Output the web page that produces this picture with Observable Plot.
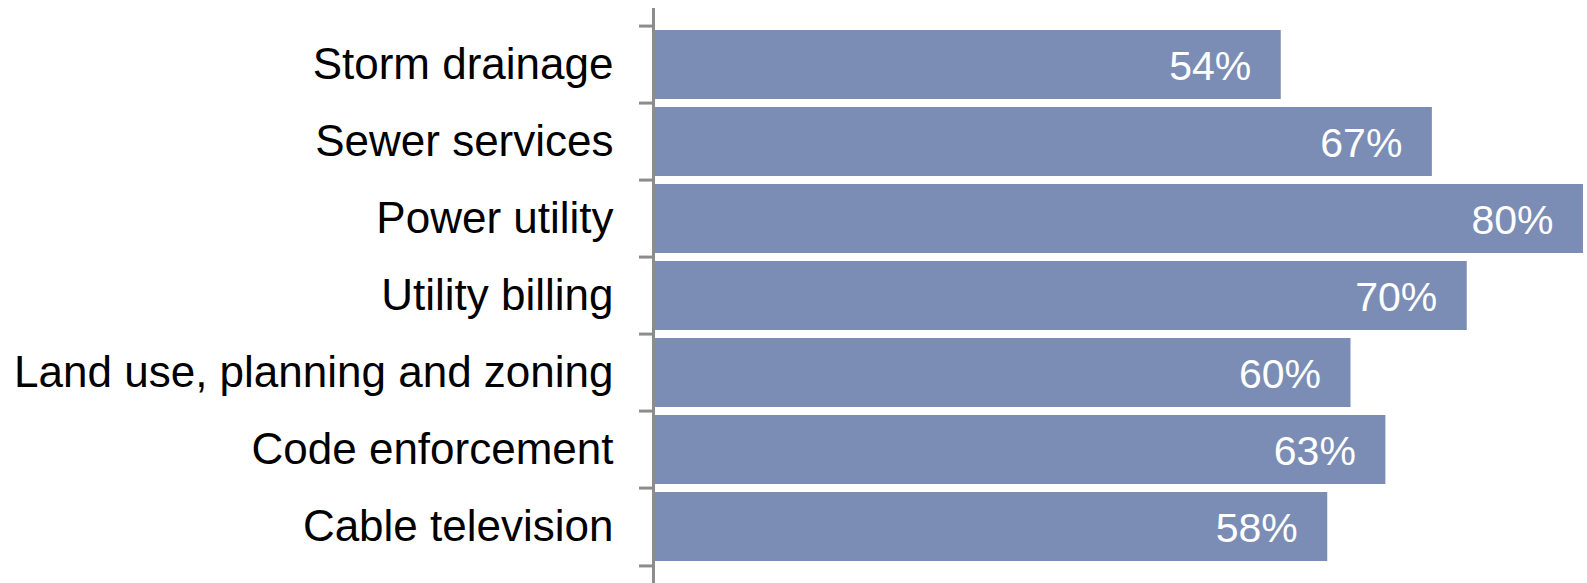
<!DOCTYPE html>
<html><head><meta charset="utf-8">
<script src="https://cdn.jsdelivr.net/npm/d3@7"></script>
<script src="https://cdn.jsdelivr.net/npm/@observablehq/plot@0.6"></script>
<style>body{margin:0;background:#fff;} </style>
</head><body><div id="chart"></div>
<script>
const categories = ["Storm drainage","Sewer services","Power utility","Utility billing","Land use, planning and zoning","Code enforcement","Cable television"];
const values = [54, 67, 80, 70, 60, 63, 58];
const labels = ["54%","67%","80%","70%","60%","63%","58%"];
const data = categories.map((c,i)=>({category:c, value:values[i], label:labels[i]}));
const step = 77.86;
const chart = Plot.plot({
  width: 1587, height: 583,
  marginLeft: 653, marginRight: 4, marginTop: 8, marginBottom: 0,
  style: {fontFamily: "Liberation Sans, Arial, sans-serif", background: "#fff"},
  x: {domain: [0, 80], axis: null},
  y: {domain: categories, paddingInner: 0.1, paddingOuter: 0.242, label: null},
  marks: [
    Plot.barX(data, {y: "category", x: "value", fill: "#7b8db5"}),
    Plot.text(data, {y: "category", x: "value", text: "label", fill: "#fff", textAnchor: "end", dx: -30, dy: 2, fontSize: 41}),
    Plot.axisY({tickSize: 0, tickPadding: 40, fontSize: 44, fill: "#000", label: null}),
    Plot.axisY({text: null, tickSize: 14, dy: -step/2, stroke: "#8c8c8c", strokeWidth: 3, label: null}),
    Plot.axisY([categories[categories.length-1]], {text: null, tickSize: 14, dy: step/2, stroke: "#8c8c8c", strokeWidth: 3, label: null}),
    Plot.ruleX([0], {stroke: "#8c8c8c", strokeWidth: 3})
  ]
});
document.getElementById("chart").appendChild(chart);
</script></body></html>
